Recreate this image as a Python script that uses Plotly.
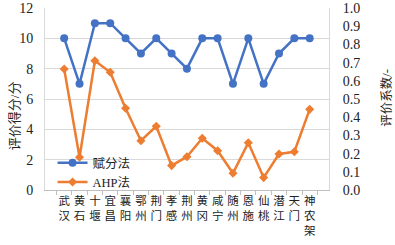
import plotly.graph_objects as go
from plotly.subplots import make_subplots

cities = ["武汉", "黄石", "十堰", "宜昌", "襄阳", "鄂州", "荆门", "孝感", "荆州",
          "黄冈", "咸宁", "随州", "恩施", "仙桃", "潜江", "天门", "神农架"]
score = [10, 7, 11, 11, 10, 9, 10, 9, 8, 10, 10, 7, 10, 7, 9, 10, 10]
ahp = [0.665, 0.18, 0.71, 0.647, 0.449, 0.271, 0.35, 0.134, 0.183, 0.284,
       0.216, 0.092, 0.26, 0.068, 0.198, 0.21, 0.443]
series_names = ["赋分法", "AHP法"]
left_title = "评价得分/分"
right_title = "评价系数/-"

labels = ["<br>".join(list(c)) for c in cities]

FONT = "Times New Roman, Liberation Serif, Noto Sans CJK SC, serif"
BLUE = "#4472C4"
ORANGE = "#ED7D31"

fig = make_subplots(specs=[[{"secondary_y": True}]])
fig.add_trace(go.Scatter(x=labels, y=score, name=series_names[0], mode="lines+markers",
                         line=dict(color=BLUE, width=2.5),
                         marker=dict(symbol="circle", size=8, color=BLUE)),
              secondary_y=False)
fig.add_trace(go.Scatter(x=labels, y=ahp, name=series_names[1], mode="lines+markers",
                         line=dict(color=ORANGE, width=2.5),
                         marker=dict(symbol="diamond", size=7, color=ORANGE)),
              secondary_y=True)

fig.update_layout(
    width=395, height=245,
    margin=dict(l=45, r=48, t=8, b=55, autoexpand=False),
    paper_bgcolor="white", plot_bgcolor="white",
    font=dict(family=FONT, size=14, color="#222222"),
    showlegend=True,
    legend=dict(x=0.025, y=0.23, xanchor="left", yanchor="top",
                bgcolor="rgba(0,0,0,0)", font=dict(size=12.5, family=FONT),
                tracegroupgap=0),
    annotations=[
        dict(text=left_title, xref="paper", yref="paper", x=-0.1, y=0.41,
             textangle=-90, showarrow=False, font=dict(size=13, family=FONT),
             xanchor="center", yanchor="middle"),
        dict(text=right_title, xref="paper", yref="paper", x=1.128, y=0.505,
             textangle=-90, showarrow=False, font=dict(size=12.5, family=FONT),
             xanchor="center", yanchor="middle"),
    ],
)
fig.update_xaxes(type="category", showline=True, linecolor="#BFBFBF", linewidth=1,
                 ticks="outside", tickson="boundaries", ticklen=4, tickcolor="#BFBFBF",
                 tickangle=0, tickfont=dict(size=11.5), showgrid=False, mirror=False,
                 automargin=False)
fig.update_yaxes(range=[0, 12], dtick=2, showgrid=True, gridcolor="#D9D9D9",
                 showline=True, linecolor="#D9D9D9", zeroline=False,
                 ticks="outside", ticklen=8, tickcolor="rgba(0,0,0,0)",
                 automargin=False, secondary_y=False)
fig.update_yaxes(range=[0, 1.0], dtick=0.1, tickformat=".1f", showgrid=False,
                 showline=True, linecolor="#D9D9D9", zeroline=False,
                 ticks="outside", ticklen=10, tickcolor="rgba(0,0,0,0)",
                 automargin=False, secondary_y=True)

fig.write_html("out.html", config={"displayModeBar": False},
               post_script="document.body.style.margin='0';")
